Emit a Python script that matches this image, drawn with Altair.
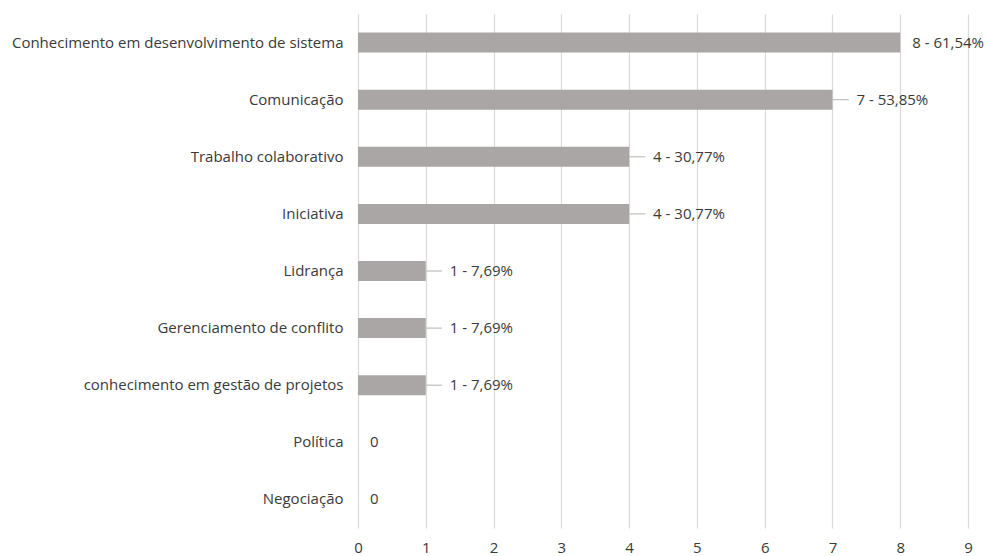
import altair as alt
import pandas as pd

categories = [
    "Conhecimento em desenvolvimento de sistema",
    "Comunicação",
    "Trabalho colaborativo",
    "Iniciativa",
    "Lidrança",
    "Gerenciamento de conflito",
    "conhecimento em gestão de projetos",
    "Política",
    "Negociação",
]
counts = [8, 7, 4, 4, 1, 1, 1, 0, 0]
labels = ["8 - 61,54%", "7 - 53,85%", "4 - 30,77%", "4 - 30,77%",
          "1 - 7,69%", "1 - 7,69%", "1 - 7,69%", "0", "0"]
x_ticks = [0, 1, 2, 3, 4, 5, 6, 7, 8, 9]

df = pd.DataFrame({"cat": categories, "count": counts, "label": labels})

FONT = "Open Sans"
TXT = "#3a3a3a"
FS = 15

y_enc = alt.Y("cat:N", sort=categories, title=None,
              scale=alt.Scale(paddingInner=0.65, paddingOuter=0.325),
              axis=alt.Axis(domain=False, ticks=False, labelPadding=15,
                            labelFont=FONT, labelFontSize=FS, labelColor=TXT,
                            labelLimit=400))
x_scale = alt.Scale(domain=[0, 9], nice=False, zero=True)

base = alt.Chart(df)

bars = base.mark_bar(color="#aaa6a5").encode(
    x=alt.X("count:Q", scale=x_scale, title=None,
            axis=alt.Axis(values=x_ticks, format="d", domain=False, ticks=False,
                          grid=True, gridColor="#d9d9d9", gridWidth=1.2,
                          labelFlush=False, labelPadding=12, labelFont=FONT,
                          labelFontSize=FS, labelColor=TXT)),
    y=y_enc,
)

leader_filter = "datum.count > 0 && datum.count < 8"

leaders = base.transform_filter(leader_filter).transform_calculate(
    xend="datum.count + 0.24"
).mark_rule(color="#bfbfbf", strokeWidth=1.2).encode(
    x=alt.X("count:Q", scale=x_scale),
    x2="xend:Q",
    y=alt.Y("cat:N", sort=categories),
)

text_leader = base.transform_filter(leader_filter).mark_text(
    align="left", baseline="middle", dx=24, font=FONT, fontSize=FS, color=TXT
).encode(
    x=alt.X("count:Q", scale=x_scale),
    y=alt.Y("cat:N", sort=categories),
    text="label:N",
)

text_plain = base.transform_filter("!(" + leader_filter + ")").mark_text(
    align="left", baseline="middle", dx=12, font=FONT, fontSize=FS, color=TXT
).encode(
    x=alt.X("count:Q", scale=x_scale),
    y=alt.Y("cat:N", sort=categories),
    text="label:N",
)

chart = alt.layer(bars, leaders, text_leader, text_plain).properties(
    width=610, height=514,
    autosize=alt.AutoSizeParams(type="none"),
    padding={"left": 358, "top": 14, "right": 19, "bottom": 28},
    background="white",
).configure_view(stroke=None)

chart.save("out.html", embed_options={"renderer": "svg", "actions": False})
